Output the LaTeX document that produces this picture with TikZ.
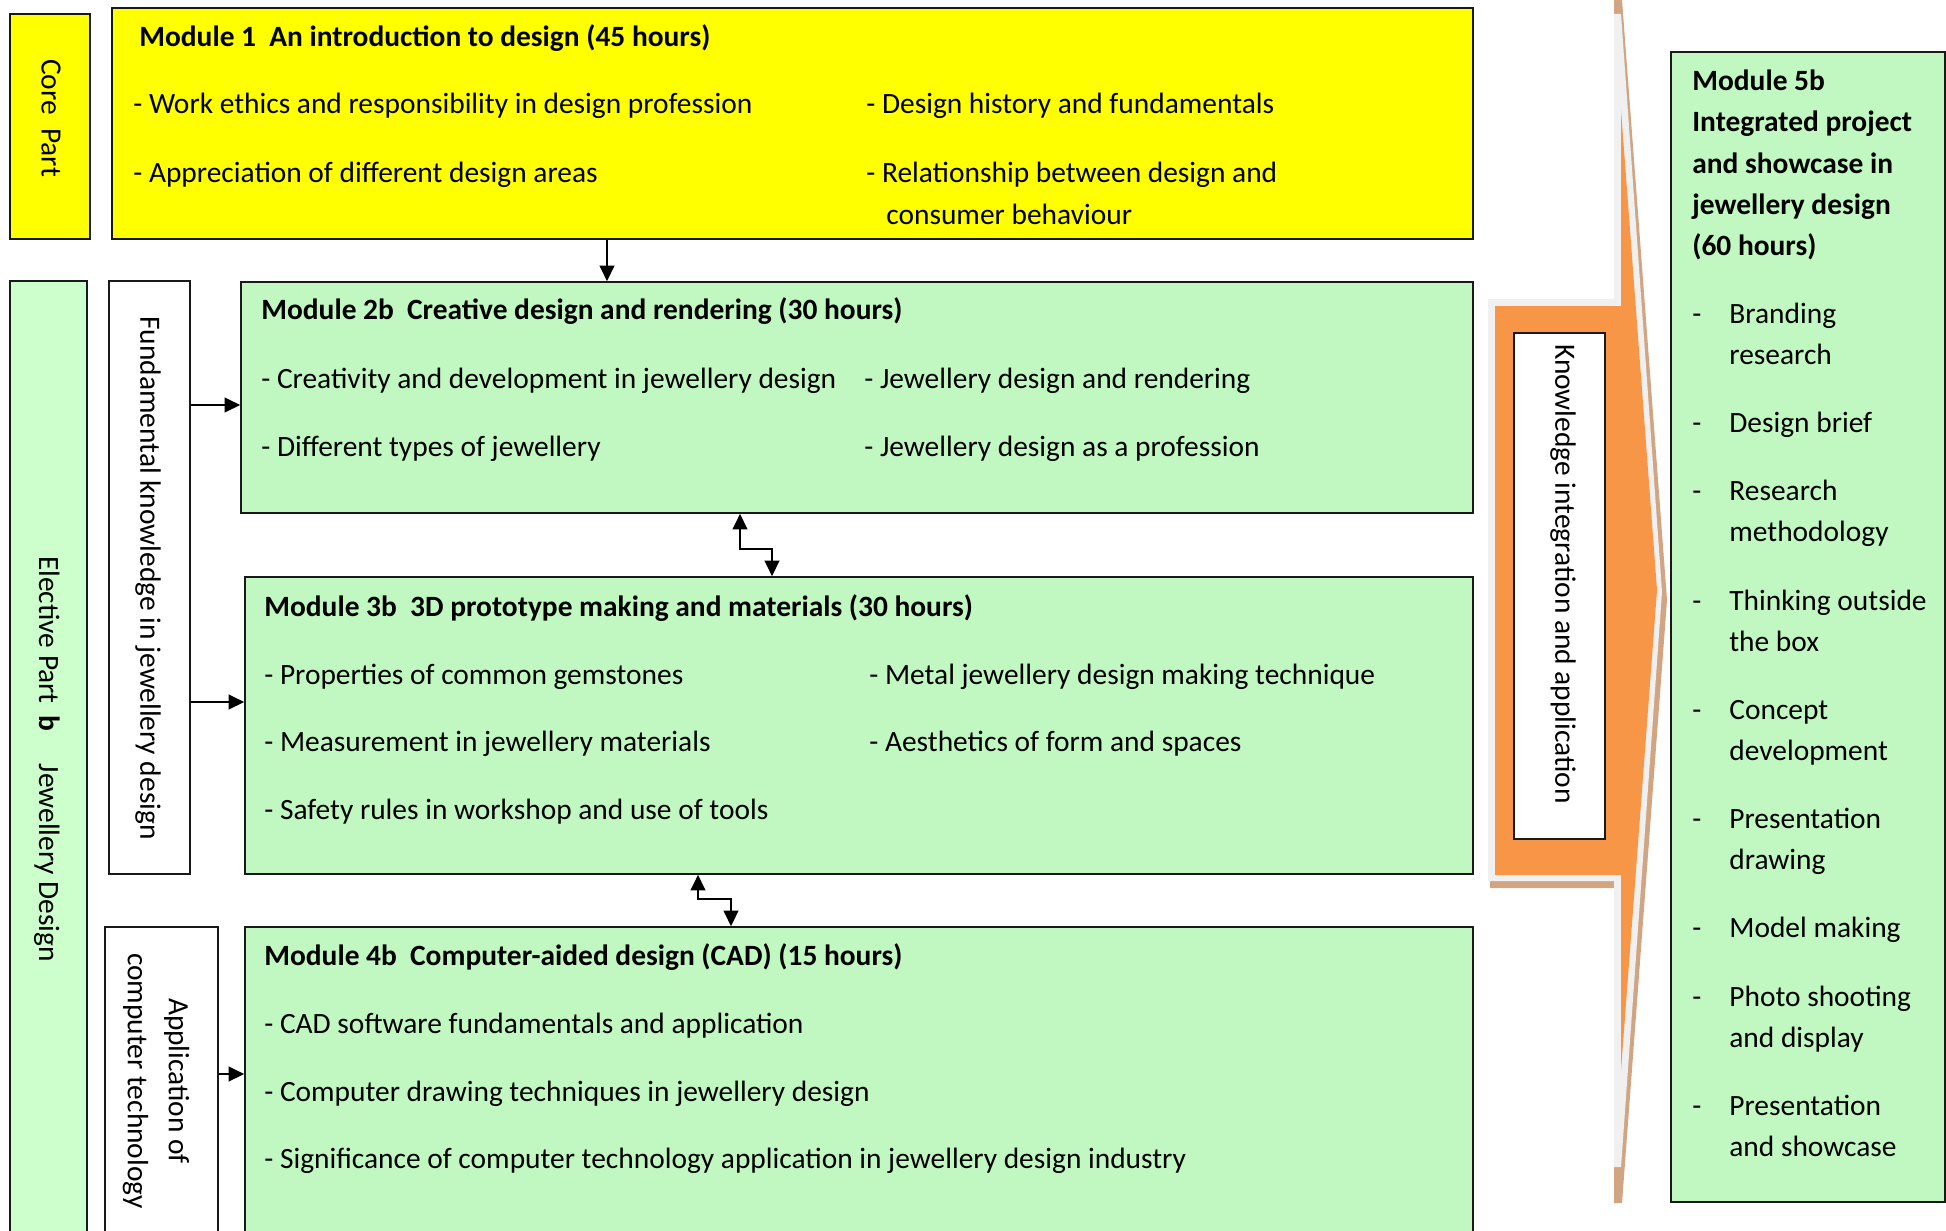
\documentclass[tikz,border=0pt]{standalone}
\usepackage{fontspec}
\setmainfont{Carlito}
\usetikzlibrary{arrows.meta,fit}
\definecolor{yel}{RGB}{255,255,0}
\definecolor{grn}{RGB}{193,248,193}
\definecolor{grnl}{RGB}{204,255,204}
\definecolor{orng}{RGB}{247,150,70}
\definecolor{tanc}{RGB}{210,165,130}
\definecolor{shd}{RGB}{240,240,240}
\newcommand{\bodyfs}{\fontsize{16.75}{23.3}\selectfont}
\begin{document}
\begin{tikzpicture}[x=0.02cm,y=-0.02cm,
  box/.style={draw=black!90, line width=0.9pt, inner sep=0pt},
  txt/.style={anchor=base west, inner sep=0pt, font=\bodyfs},
  ttl/.style={anchor=base west, inner sep=0pt, font=\bodyfs\bfseries},
  vtxt/.style={rotate=-90, inner sep=0pt, font=\bodyfs, align=center},
  conn/.style={line width=1.35pt, -{Triangle[length=0.31cm,width=0.29cm]}},
  conn2/.style={line width=1.35pt, {Triangle[length=0.31cm,width=0.29cm]}-{Triangle[length=0.31cm,width=0.29cm]}}]
\useasboundingbox (0,0) rectangle (1946,1230);
\clip (0,0) rectangle (1946,1230);

% big arrow (knowledge integration)
\fill[tanc] (1614,0) -- (1622,0) -- (1667,600) -- (1622,1203) -- (1614,1203) -- (1614,888) -- (1490,888) -- (1490,299) -- (1614,299) -- cycle;
\fill[shd] (1614,14) -- (1621,14) -- (1662,592) -- (1621,1167) -- (1614,1167) -- (1614,881) -- (1488,881) -- (1488,299) -- (1614,299) -- cycle;
\fill[orng] (1495,306) -- (1621,306) -- (1621,110) -- (1657,590) -- (1621,1070) -- (1621,875) -- (1495,875) -- cycle;

% boxes
\node[box, fill=yel, fit={(10,14) (90,239)}] (core) {};
\node[box, fill=yel, fit={(112,8) (1473,239)}] (m1) {};
\node[box, fill=grnl, fit={(10,281) (87,1260)}] (elec) {};
\node[box, fill=white, fit={(109,281) (190,874)}] (fund) {};
\node[box, fill=white, fit={(105,927) (218,1260)}] (app) {};
\node[box, fill=grn, fit={(241,282) (1473,513)}] (m2) {};
\node[box, fill=grn, fit={(245,577) (1473,874)}] (m3) {};
\node[box, fill=grn, fit={(245,927) (1473,1260)}] (m4) {};
\node[box, fill=grn, fit={(1671,52) (1945,1202)}] (m5) {};
\node[box, fill=white, fit={(1514,333) (1605,839)}] (ki) {};

% vertical labels
\node[vtxt] (coret) at (51,118) {Core\hspace{0.45em}Part};
\node[vtxt] (elect) at (47,759) {Elective Part\hspace{0.4em}\textbf{b}\hspace{1.1em}Jewellery Design};
\node[vtxt] (fundt) at (148,578) {Fundamental knowledge in jewellery design};
\node[vtxt] (appt) at (156,1081) {Application of\\computer technology};
\node[vtxt] (kit) at (1563,574) {Knowledge integration and application};

% Module 1
\node[ttl] (m1t) at (139,47) {Module 1\hspace{0.45em}An introduction to design (45 hours)};
\node[txt] (m1a) at (133,113) {- Work ethics and responsibility in design profession};
\node[txt] (m1b) at (133,182) {- Appreciation of different design areas};
\node[txt] (m1c) at (866,113) {- Design history and fundamentals};
\node[txt] (m1d) at (866,182) {- Relationship between design and};
\node[txt] (m1e) at (886,224) {consumer behaviour};

% Module 2b
\node[ttl] (m2t) at (261,319) {Module 2b\hspace{0.45em}Creative design and rendering (30 hours)};
\node[txt] (m2a) at (261,388) {- Creativity and development in jewellery design};
\node[txt] (m2b) at (261,456) {- Different types of jewellery};
\node[txt] (m2c) at (864,388) {- Jewellery design and rendering};
\node[txt] (m2d) at (864,456) {- Jewellery design as a profession};

% Module 3b
\node[ttl] (m3t) at (264,616) {Module 3b\hspace{0.45em}3D prototype making and materials (30 hours)};
\node[txt] (m3a) at (264,684) {- Properties of common gemstones};
\node[txt] (m3b) at (264,751) {- Measurement in jewellery materials};
\node[txt] (m3c) at (264,819) {- Safety rules in workshop and use of tools};
\node[txt] (m3d) at (869,684) {- Metal jewellery design making technique};
\node[txt] (m3e) at (869,751) {- Aesthetics of form and spaces};

% Module 4b
\node[ttl] (m4t) at (264,965) {Module 4b\hspace{0.45em}Computer-aided design (CAD) (15 hours)};
\node[txt] (m4a) at (264,1033) {- CAD software fundamentals and application};
\node[txt] (m4b) at (264,1101) {- Computer drawing techniques in jewellery design};
\node[txt] (m4c) at (264,1168) {- Significance of computer technology application in jewellery design industry};

% Module 5b
\node[ttl] (m5t1) at (1692,91) {Module 5b};
\node[ttl] (m5t2) at (1692,132) {Integrated project};
\node[ttl] (m5t3) at (1692,173) {and showcase in};
\node[ttl] (m5t4) at (1692,214) {jewellery design};
\node[ttl] (m5t5) at (1692,255) {(60 hours)};
\foreach \yy/\nm in {323/d1,432/d2,500/d3,610/d4,719/d5,828/d6,937/d7,1006/d8,1115/d9}
  \node[txt] (\nm) at (1692,\yy) {-};
\node[txt] (i1a) at (1729,323) {Branding};
\node[txt] (i1b) at (1729,364) {research};
\node[txt] (i2) at (1729,432) {Design brief};
\node[txt] (i3a) at (1729,500) {Research};
\node[txt] (i3b) at (1729,541) {methodology};
\node[txt] (i4a) at (1729,610) {Thinking outside};
\node[txt] (i4b) at (1729,651) {the box};
\node[txt] (i5a) at (1729,719) {Concept};
\node[txt] (i5b) at (1729,760) {development};
\node[txt] (i6a) at (1729,828) {Presentation};
\node[txt] (i6b) at (1729,869) {drawing};
\node[txt] (i7) at (1729,937) {Model making};
\node[txt] (i8a) at (1729,1006) {Photo shooting};
\node[txt] (i8b) at (1729,1047) {and display};
\node[txt] (i9a) at (1729,1115) {Presentation};
\node[txt] (i9b) at (1729,1156) {and showcase};

% connectors
\coordinate (xa) at (607,0);
\coordinate (ya) at (0,405);
\coordinate (yb) at (0,702);
\coordinate (yc) at (0,1074);
\coordinate (xb1) at (740,0);
\coordinate (xb2) at (772,0);
\coordinate (xc1) at (698,0);
\coordinate (xc2) at (731,0);
\draw[conn] (m1.south -| xa) -- (m2.north -| xa);
\draw[conn] (fund.east |- ya) -- (m2.west |- ya);
\draw[conn] (fund.east |- yb) -- (m3.west |- yb);
\draw[conn] (app.east |- yc) -- (m4.west |- yc);
\draw[conn2] (m2.south -| xb1) -- ++(0,35) -| (m3.north -| xb2);
\draw[conn2] (m3.south -| xc1) -- ++(0,24) -| (m4.north -| xc2);
\end{tikzpicture}
\end{document}
